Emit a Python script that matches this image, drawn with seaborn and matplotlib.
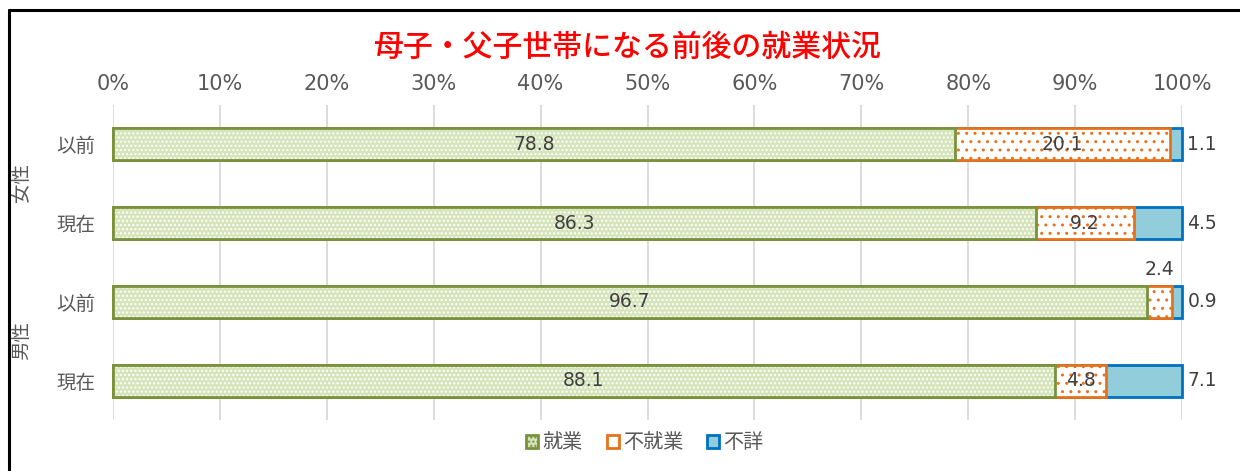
import matplotlib
matplotlib.use("Agg")
import matplotlib.pyplot as plt
import seaborn as sns
import pandas as pd
import numpy as np
from matplotlib.patches import Patch
from matplotlib.lines import Line2D

# ---- data ----
groups = ["女性", "女性", "男性", "男性"]
periods = ["以前", "現在", "以前", "現在"]
employed = [78.8, 86.3, 96.7, 88.1]       # 就業
unemployed = [20.1, 9.2, 2.4, 4.8]        # 不就業
unknown = [1.1, 4.5, 0.9, 7.1]            # 不詳
series_names = ["就業", "不就業", "不詳"]
title = "母子・父子世帯になる前後の就業状況"
xticks = [0, 10, 20, 30, 40, 50, 60, 70, 80, 90, 100]

sns.set_theme(style="white")
plt.rcParams['font.family'] = ['Noto Sans CJK JP', 'DejaVu Sans']
NUMFONT = ['DejaVu Sans']

rows = [f"{g}{p}" for g, p in zip(groups, periods)]
df = pd.DataFrame({"row": rows, "e": employed, "u": unemployed, "k": unknown})
df["c1"] = df["e"]
df["c2"] = df["e"] + df["u"]
df["c3"] = df["e"] + df["u"] + df["k"]

fig = plt.figure(figsize=(12.4, 4.71), dpi=100)
ax = fig.add_axes([113/1240, 1-420/471, 1069/1240, 315/471])

green_edge = "#77933C"
green_face = "#D6E4BB"
orange = "#E8711A"
blue_edge = "#0070C0"
blue_face = "#92CDDC"
txt = "#404040"

bw = 0.405
# blue (cumulative total)
sns.barplot(data=df, y="row", x="c3", orient="h", ax=ax, width=bw,
            color=blue_face, edgecolor=blue_edge, linewidth=2, saturation=1)
# orange: white with orange dots
sns.barplot(data=df, y="row", x="c2", orient="h", ax=ax, width=bw,
            color="white", edgecolor=orange, linewidth=0, saturation=1, hatch="..")
sns.barplot(data=df, y="row", x="c2", orient="h", ax=ax, width=bw,
            fill=False, edgecolor=orange, linewidth=2)
# green: light green with white dots
sns.barplot(data=df, y="row", x="c1", orient="h", ax=ax, width=bw,
            color=green_face, edgecolor="white", linewidth=0, saturation=1, hatch="....")
sns.barplot(data=df, y="row", x="c1", orient="h", ax=ax, width=bw,
            fill=False, edgecolor=green_edge, linewidth=2)
for p in ax.patches:
    p.set_clip_on(False)

ax.set_xlim(0, 100)
ax.set_ylim(3.5, -0.5)
ax.set_xticks(xticks)
ax.set_xticklabels([f"{t}%" for t in xticks], family=NUMFONT)
ax.xaxis.tick_top()
ax.tick_params(axis="x", length=0, pad=8, labelsize=15, labelcolor="#595959")
ax.set_yticks(range(len(rows)))
ax.set_yticklabels(periods)
ax.tick_params(axis="y", length=0, pad=13, labelsize=14, labelcolor="#595959")
ax.set_xlabel("")
ax.set_ylabel("")
for s in ax.spines.values():
    s.set_visible(False)
ax.grid(axis="x", color="#D9D9D9", linewidth=1.3)
ax.set_axisbelow(True)

# value labels
fs = 13.5
for i in range(len(rows)):
    e, u, k = employed[i], unemployed[i], unknown[i]
    ax.text(e/2, i, f"{e:.1f}", ha="center", va="center", fontsize=fs, color=txt, family=NUMFONT)
    if u >= 4:
        ax.text(e + u/2, i, f"{u:.1f}", ha="center", va="center", fontsize=fs, color=txt, family=NUMFONT)
    else:
        ax.text(e + u/2, i - 0.41, f"{u:.1f}", ha="center", va="center", fontsize=fs, color=txt, family=NUMFONT)
    ax.text(101.9, i, f"{k:.1f}", ha="center", va="center", fontsize=fs, color=txt, family=NUMFONT)

# group labels
for gname, ypos in [("女性", 183), ("男性", 341)]:
    fig.text(22/1240, 1-ypos/471, gname, rotation=90, ha="center", va="center",
             fontsize=14, color="#595959")

fig.text(628/1240, 1-47/471, title, ha="center", va="center", fontsize=21.5,
         color="#FF0000", fontweight="medium")

handles = [
    Patch(facecolor=green_face, edgecolor=green_edge, linewidth=2, hatch="...."),
    Patch(facecolor="white", edgecolor=orange, linewidth=2),
    Patch(facecolor=blue_face, edgecolor=blue_edge, linewidth=2),
]
leg = fig.legend(handles, series_names, loc="center", bbox_to_anchor=(645/1240, 1-443/471),
                 ncol=3, frameon=False, fontsize=14.5, handlelength=0.6, handleheight=0.6,
                 handletextpad=0.2, columnspacing=1.2)
for t in leg.get_texts():
    t.set_color("#595959")

# frame lines (left and top)
fig.add_artist(Line2D([9/1240, 9/1240], [0, 1-10/471], color="black", linewidth=2.2,
                      transform=fig.transFigure))
fig.add_artist(Line2D([9/1240, 1], [1-10/471, 1-10/471], color="black", linewidth=2.2,
                      transform=fig.transFigure))

fig.savefig("out.png", dpi=100)
